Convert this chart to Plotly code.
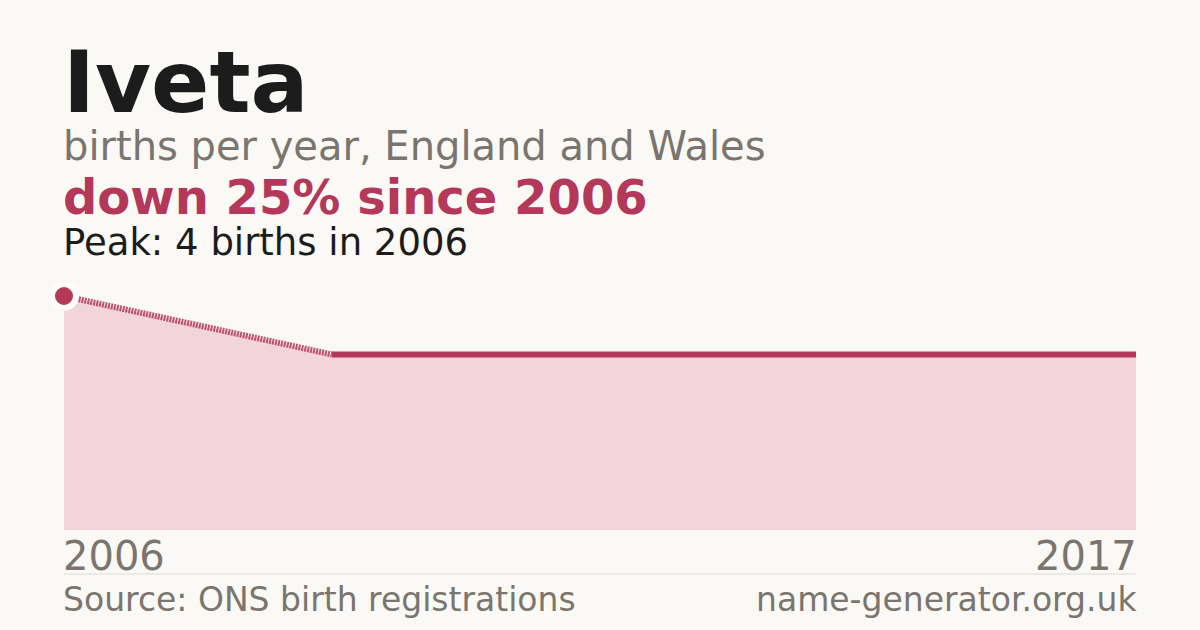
import plotly.graph_objects as go

# births per year for the name (None = not reported)
years = [2006, 2007, 2008, 2009, 2010, 2011, 2012, 2013, 2014, 2015, 2016, 2017]
births = [4, None, None, 3, 3, 3, 3, 3, 3, 3, 3, 3]

name = "Iveta"
subtitle = "births per year, England and Wales"
change_text = "down 25% since 2006"
peak_text = "Peak: 4 births in 2006"
source_text = "Source: ONS birth registrations"
site_text = "name-generator.org.uk"

bg = "#faf9f5"
red = "#b3385a"
fill_red = "#f2d5da"
grey = "#7a756e"

W, H = 1200, 630
left, right, top, bottom = 64, 64, 296, 100
plot_w = W - left - right
plot_h = H - top - bottom


def py(pix):
    # pixel row -> paper y
    return (H - bottom - pix) / plot_h


nudge = 2 / plot_w  # annotation text padding

# each year's value is held to the end of that year
known = [(x, y) for x, y in zip(years, births) if y is not None]
x_end = years[-1] + 1
fill_x = [p[0] for p in known] + [x_end]
fill_y = [p[1] for p in known] + [known[-1][1]]

# gap bridge (dashed) between first reported year and next
gap_x = [known[0][0], known[1][0]]
gap_y = [known[0][1], known[1][1]]
solid_x = [p[0] for p in known[1:]] + [x_end]
solid_y = [p[1] for p in known[1:]] + [known[-1][1]]

fig = go.Figure()
fig.add_trace(go.Scatter(x=fill_x, y=fill_y, mode="lines", line=dict(width=0),
                         fill="tozeroy", fillcolor=fill_red, hoverinfo="skip"))
fig.add_trace(go.Scatter(x=gap_x, y=gap_y, mode="lines",
                         line=dict(color=red, width=6, dash="2px,1px"),
                         opacity=0.85, hoverinfo="skip"))
fig.add_trace(go.Scatter(x=solid_x, y=solid_y, mode="lines",
                         line=dict(color=red, width=6), hoverinfo="skip"))
fig.add_trace(go.Scatter(x=[known[0][0]], y=[known[0][1]], mode="markers",
                         marker=dict(color=red, size=24, line=dict(color="#fdfcfa", width=6)),
                         cliponaxis=False, hoverinfo="skip"))

ann = []
font = "DejaVu Sans"
ann.append(dict(text="<b>%s</b>" % name, x=-nudge, y=py(82), font=dict(size=86, color="#1c1c1c")))
ann.append(dict(text=subtitle, x=-nudge, y=py(146), font=dict(size=40, color=grey)))
ann.append(dict(text="<b>%s</b>" % change_text, x=-nudge, y=py(197), font=dict(size=48, color=red)))
ann.append(dict(text=peak_text, x=-nudge, y=py(242), font=dict(size=37, color="#1c1c1c")))
ann.append(dict(text=str(years[0]), x=-nudge, y=py(556), font=dict(size=40, color=grey)))
ann.append(dict(text=str(years[-1]), x=1 + nudge, y=py(556), xanchor="right", font=dict(size=40, color=grey)))
ann.append(dict(text=source_text, x=-nudge, y=py(599), font=dict(size=33, color=grey)))
ann.append(dict(text=site_text, x=1 + nudge, y=py(599), xanchor="right", font=dict(size=33, color=grey)))
for a in ann:
    a.setdefault("xanchor", "left")
    a.update(xref="paper", yref="paper", yanchor="middle", showarrow=False,
             borderpad=0)
    a["font"]["family"] = font

fig.update_layout(
    width=W, height=H,
    margin=dict(l=left, r=right, t=top, b=bottom, pad=0),
    paper_bgcolor=bg, plot_bgcolor=bg,
    showlegend=False,
    annotations=ann,
    shapes=[dict(type="line", xref="paper", yref="paper", x0=0, x1=1,
                 y0=py(574), y1=py(574), line=dict(color="#dedbd4", width=1))],
    xaxis=dict(range=[years[0], x_end], visible=False, fixedrange=True),
    yaxis=dict(range=[0, max(b for b in births if b is not None)], visible=False,
               fixedrange=True),
)

fig.write_html("out.html", config={"displayModeBar": False},
               post_script="document.body.style.margin='0';"
                           "document.body.style.overflow='hidden';")
